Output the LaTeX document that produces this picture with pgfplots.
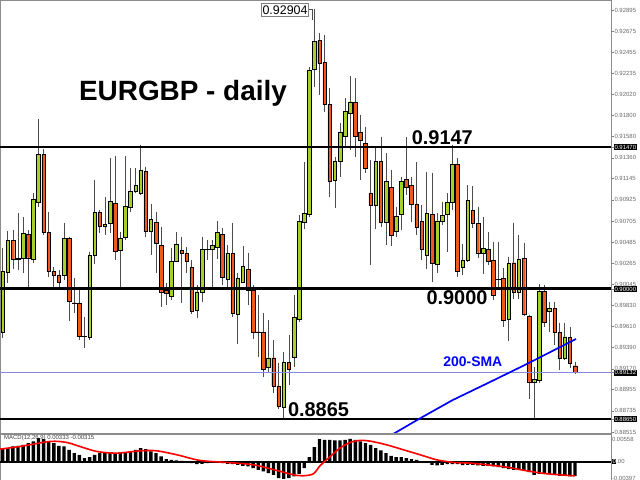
\documentclass[border=0pt]{standalone}
\usepackage{pgfplots}
\pgfplotsset{compat=1.18}
\usepackage{pgfplotstable}
\usepackage{fontspec}
\setmainfont{Liberation Sans}

\definecolor{bull}{HTML}{A6D02A}
\definecolor{bear}{HTML}{F0581C}
\definecolor{bidline}{RGB}{136,136,230}
\definecolor{scalegray}{RGB}{105,105,105}
\setlength{\fboxsep}{0.5bp}

% daily candles, index i = 1..113
\pgfplotstableread{
i o h l c
1 0.89556 0.90425 0.89491 0.90179
2 0.90169 0.90601 0.90065 0.90501
3 0.90508 0.90612 0.90204 0.90308
4 0.90314 0.90788 0.90197 0.90311
5 0.90318 0.90744 0.90162 0.90578
6 0.90567 0.90612 0.90023 0.90324
7 0.90308 0.90999 0.90269 0.90930
8 0.90899 0.91761 0.90854 0.91398
9 0.91398 0.91449 0.90560 0.90588
10 0.90588 0.90802 0.90127 0.90179
11 0.90179 0.90231 0.90023 0.90138
12 0.90145 0.90197 0.90023 0.90065
13 0.90138 0.90681 0.90093 0.90526
14 0.90526 0.90542 0.89667 0.89875
15 0.89857 0.90110 0.89747 0.89854
16 0.89851 0.89989 0.89470 0.89512
17 0.89508 0.89712 0.89384 0.89505
18 0.89498 0.90387 0.89470 0.90352
19 0.90352 0.91131 0.90256 0.90796
20 0.90796 0.90819 0.90581 0.90653
21 0.90653 0.90957 0.90560 0.90671
22 0.90681 0.91356 0.90578 0.90913
23 0.90889 0.91383 0.90300 0.90394
24 0.90404 0.90594 0.90023 0.90526
25 0.90536 0.91380 0.90508 0.90854
26 0.90847 0.91252 0.90802 0.91017
27 0.91017 0.91252 0.90996 0.91079
28 0.90993 0.91494 0.90975 0.91235
29 0.91224 0.91269 0.90542 0.90594
30 0.90594 0.90882 0.90352 0.90723
31 0.90688 0.90802 0.90169 0.90474
32 0.90456 0.90646 0.89816 0.89971
33 0.89982 0.90062 0.89833 0.89955
34 0.89920 0.90422 0.89885 0.90283
35 0.90283 0.90594 0.90280 0.90463
36 0.90397 0.90542 0.89851 0.90370
37 0.90370 0.90438 0.90162 0.90283
38 0.90225 0.90300 0.89740 0.89774
39 0.89782 0.90041 0.89695 0.89971
40 0.89961 0.90542 0.89868 0.90412
41 0.90412 0.90508 0.90300 0.90410
42 0.90412 0.90508 0.90023 0.90449
43 0.90432 0.90708 0.90308 0.90588
44 0.90570 0.90629 0.90041 0.90117
45 0.90103 0.90456 0.90023 0.90370
46 0.90370 0.90681 0.89706 0.89747
47 0.89737 0.90162 0.89430 0.90110
48 0.90075 0.90449 0.90072 0.90238
49 0.90204 0.90376 0.89833 0.89982
50 0.89982 0.90041 0.89477 0.89550
51 0.89556 0.89937 0.89297 0.89553
52 0.89550 0.89747 0.89089 0.89166
53 0.89183 0.89678 0.89131 0.89286
54 0.89286 0.89470 0.88917 0.88993
55 0.88993 0.89228 0.88751 0.88785
56 0.88772 0.89349 0.88655 0.89235
57 0.89235 0.89522 0.89003 0.89166
58 0.89290 0.89937 0.89193 0.89706
59 0.89685 0.90768 0.89657 0.90698
60 0.90692 0.91316 0.90619 0.90785
61 0.90775 0.92300 0.90750 0.92272
62 0.92280 0.92904 0.92099 0.92566
63 0.92577 0.92653 0.92013 0.92342
64 0.92348 0.92636 0.91840 0.91916
65 0.91916 0.92083 0.90957 0.91113
66 0.91131 0.91373 0.90837 0.91328
67 0.91321 0.91719 0.91165 0.91630
68 0.91580 0.91979 0.91460 0.91840
69 0.91823 0.92210 0.91442 0.91943
70 0.91937 0.92186 0.91373 0.91587
71 0.91629 0.91805 0.91131 0.91546
72 0.91512 0.91684 0.91200 0.91252
73 0.90993 0.91338 0.90249 0.90864
74 0.90864 0.91476 0.90619 0.91321
75 0.91321 0.91580 0.90646 0.90692
76 0.90688 0.91411 0.90456 0.91113
77 0.91055 0.91235 0.90446 0.90560
78 0.90594 0.90854 0.90542 0.90750
79 0.90775 0.91165 0.90612 0.91113
80 0.91141 0.91580 0.90975 0.91051
81 0.91072 0.91165 0.90698 0.90882
82 0.90882 0.91316 0.90560 0.90640
83 0.90698 0.90871 0.90300 0.90412
84 0.90352 0.91217 0.90204 0.90785
85 0.90775 0.91206 0.90075 0.90266
86 0.90259 0.90785 0.90162 0.90708
87 0.90698 0.90906 0.90664 0.90768
88 0.90778 0.90993 0.90387 0.90895
89 0.90895 0.91494 0.90819 0.91297
90 0.91297 0.91356 0.90127 0.90179
91 0.90225 0.90466 0.90145 0.90300
92 0.90293 0.91079 0.90280 0.90923
93 0.90812 0.91068 0.90633 0.90681
94 0.90681 0.90854 0.90321 0.90376
95 0.90376 0.90750 0.90155 0.90422
96 0.90412 0.90594 0.90249 0.90290
97 0.90293 0.90490 0.89885 0.89937
98 0.90100 0.90490 0.89989 0.90098
99 0.90110 0.90217 0.89605 0.89678
100 0.89685 0.90335 0.89463 0.90266
101 0.90272 0.90688 0.89896 0.89971
102 0.89971 0.90560 0.89892 0.90308
103 0.90318 0.90480 0.89719 0.89740
104 0.89719 0.89730 0.88855 0.89037
105 0.89037 0.89193 0.88657 0.89062
106 0.89055 0.90051 0.89027 0.89972
107 0.89972 0.90041 0.89605 0.89654
108 0.89774 0.89868 0.89553 0.89799
109 0.89799 0.89868 0.89418 0.89546
110 0.89546 0.89650 0.89159 0.89280
111 0.89280 0.89650 0.89263 0.89504
112 0.89498 0.89602 0.89179 0.89228
113 0.89203 0.89245 0.89117 0.89132
}\candles

% MACD histogram
\pgfplotstableread{
i v
1 0.00310
2 0.00335
3 0.00375
4 0.00392
5 0.00416
6 0.00457
7 0.00498
8 0.00580
9 0.00555
10 0.00498
11 0.00457
12 0.00392
13 0.00375
14 0.00294
15 0.00212
16 0.00171
17 0.00090
18 0.00114
19 0.00171
20 0.00212
21 0.00212
22 0.00212
23 0.00188
24 0.00212
25 0.00212
26 0.00253
27 0.00294
28 0.00335
29 0.00310
30 0.00253
31 0.00212
32 0.00131
33 0.00065
34 0.00049
35 0.00033
36 0.00024
37 0.00008
38 -0.00033
39 -0.00057
40 -0.00049
41 -0.00033
42 -0.00016
43 -0.00008
44 -0.00033
45 -0.00049
46 -0.00057
47 -0.00073
48 -0.00098
49 -0.00114
50 -0.00155
51 -0.00196
52 -0.00237
53 -0.00278
54 -0.00318
55 -0.00400
56 -0.00416
57 -0.00400
58 -0.00359
59 -0.00294
60 -0.00155
61 0.00114
62 0.00359
63 0.00555
64 0.00539
65 0.00539
66 0.00522
67 0.00522
68 0.00539
69 0.00563
70 0.00539
71 0.00498
72 0.00457
73 0.00416
74 0.00335
75 0.00278
76 0.00212
77 0.00147
78 0.00114
79 0.00114
80 0.00090
81 0.00065
82 0.00049
83 0.00008
84 -0.00016
85 -0.00073
86 -0.00090
87 -0.00073
88 -0.00057
89 -0.00057
90 -0.00057
91 -0.00082
92 -0.00073
93 -0.00073
94 -0.00090
95 -0.00098
96 -0.00098
97 -0.00114
98 -0.00131
99 -0.00155
100 -0.00180
101 -0.00196
102 -0.00196
103 -0.00220
104 -0.00253
105 -0.00318
106 -0.00294
107 -0.00278
108 -0.00294
109 -0.00318
110 -0.00343
111 -0.00343
112 -0.00359
113 -0.00343
}\macd

\pgfplotsset{
  panel/.style={scale only axis, width=611bp, xmin=0.47, xmax=120.04,
    anchor=south west, scaled y ticks=false},
  price/.style={panel, height=433bp, at={(0,47bp)}, ymin=0.88505, ymax=0.92999},
  rightscale/.style={axis line style={black!45}, xtick=\empty,
    ytick pos=right, yticklabel pos=right, tick align=outside,
    major tick length=2.5bp, tick style={black!50, line width=0.5bp},
    yticklabel style={font=\fontsize{6}{6}\selectfont, text=scalegray, inner sep=0.8bp}},
}

\begin{document}
\begin{tikzpicture}
\path[use as bounding box] (0,0) rectangle (640bp,480bp);

% wicks: high down to low
\begin{axis}[price, hide axis]
  \addplot[draw=none, mark=none,
    error bars/.cd, y dir=minus, y explicit, error mark=none,
    error bar style={draw=black!70, line width=0.7bp}]
    table[x=i, y=h, y error minus expr={\thisrow{h}-\thisrow{l}}] {\candles};
\end{axis}

% bodies: invisible base, then bull and bear parts
\begin{axis}[price, hide axis, ybar stacked, bar width=3.6bp]
  \addplot[draw=none, fill=none]
    table[x=i, y expr={min(\thisrow{o},\thisrow{c})}] {\candles};
  \addplot[draw=black, fill=bull, line width=0.45bp]
    table[x=i, y expr={max(\thisrow{c}-\thisrow{o},0)}] {\candles};
  \addplot[draw=black, fill=bear, line width=0.45bp]
    table[x=i, y expr={max(\thisrow{o}-\thisrow{c},0)}] {\candles};
\end{axis}

% levels, SMA, price scale, notes
\begin{axis}[price, rightscale,
    ytick={0.92895,0.92675,0.92455,0.92235,0.92020,0.91800,0.91580,0.91360,0.91145,0.90925,0.90705,0.90485,0.90265,0.90045,0.89830,0.89610,0.89390,0.89170,0.88955,0.88735,0.88515},
    yticklabels={0.92895,0.92675,0.92455,0.92235,0.92020,0.91800,0.91580,0.91360,0.91145,0.90925,0.90705,0.90485,0.90265,0.90045,0.89830,0.89610,0.89390,0.89170,0.88955,0.88735,0.88515},
    extra y ticks={0.9147,0.9,0.89132,0.8865},
    extra y tick labels={0.91470,0.90000,0.89132,0.88650},
    extra y tick style={yticklabel style={fill=black, text=white}}]
  \addplot[bidline, line width=0.8bp] coordinates {(0.47,0.89132) (120.04,0.89132)};
  \addplot[black, line width=2bp] coordinates {(0.47,0.9147) (120.04,0.9147)};
  \addplot[black, line width=3bp] coordinates {(0.47,0.9) (120.04,0.9)};
  \addplot[black, line width=2bp] coordinates {(0.47,0.8865) (120.04,0.8865)};
  \addplot[blue, line width=1.7bp] coordinates {
    (76.6,0.88470) (82.7,0.88658) (89.1,0.88848) (96.4,0.89035) (103.6,0.89222) (113.2,0.89481)};

  \node[font=\fontsize{28}{30}\selectfont\bfseries, inner sep=0] at (axis cs:36.28,0.92034) {EURGBP - daily};
  \node[font=\fontsize{20}{20}\selectfont\bfseries, inner sep=0] at (axis cs:87.03,0.91572) {0.9147};
  \node[font=\fontsize{20}{20}\selectfont\bfseries, inner sep=0] at (axis cs:89.9,0.89911) {0.9000};
  \node[font=\fontsize{20}{20}\selectfont\bfseries, inner sep=0] at (axis cs:62.8,0.88744) {0.8865};
  \node[font=\fontsize{14}{14}\selectfont\bfseries, text=blue, inner sep=0] at (axis cs:93.0,0.89245) {200-SMA};
  \node[draw=black!50, fill=white, font=\fontsize{12.5}{13}\selectfont, inner xsep=1bp, inner ysep=2bp]
    at (axis cs:56.25,0.92895) {0.92904};
  \draw[black!70, line width=0.6bp] (axis cs:60.96,0.92906) -| (axis cs:61.66,0.92791);
\end{axis}

% MACD panel
\begin{axis}[panel, rightscale, height=46bp, at={(0,0)},
    ymin=-0.00446, ymax=0.0068, major tick length=0pt,
    ytick={0.00558,-0.00397}, yticklabels={0.00558,-0.00397},
    extra y ticks={0},
    extra y tick labels={{\colorbox{black}{\textcolor{white}{0}}.00}}]
  \addplot[black, line width=1.6bp] coordinates {(0.47,0) (120.04,0)};
  \addplot[ybar, bar width=3.4bp, fill=black, draw=none] table[x=i, y=v] {\macd};
  \addplot[red, line width=1.6bp, smooth] coordinates {
    (0.47,0.00310) (4.4,0.00375) (10.3,0.00498) (13.5,0.00473) (16.1,0.00375)
    (19.4,0.00253) (23.3,0.00212) (27.9,0.00269) (31.1,0.00269) (35.1,0.00171)
    (39.6,0.00033) (44.8,-0.00016) (50.0,-0.00073) (54.6,-0.00212) (57.9,-0.00318)
    (59.8,-0.00343) (61.8,-0.00294) (63.1,-0.00098) (65.1,0.00131) (67.0,0.00335)
    (69.0,0.00473) (70.9,0.00522) (72.9,0.00506) (76.1,0.00416) (79.4,0.00294)
    (82.7,0.00171) (85.9,0.00049) (89.2,-0.00016) (92.4,-0.00033) (95.7,-0.00073)
    (99.6,-0.00131) (103.5,-0.00220) (107.5,-0.00294) (113.0,-0.00345)};
  \node[anchor=north west, font=\fontsize{6}{6}\selectfont, text=black!75, inner sep=0]
    at (axis cs:1.25,0.0066) {MACD(12,26,9) 0.00333 -0.00315};
\end{axis}
\end{tikzpicture}
\end{document}
